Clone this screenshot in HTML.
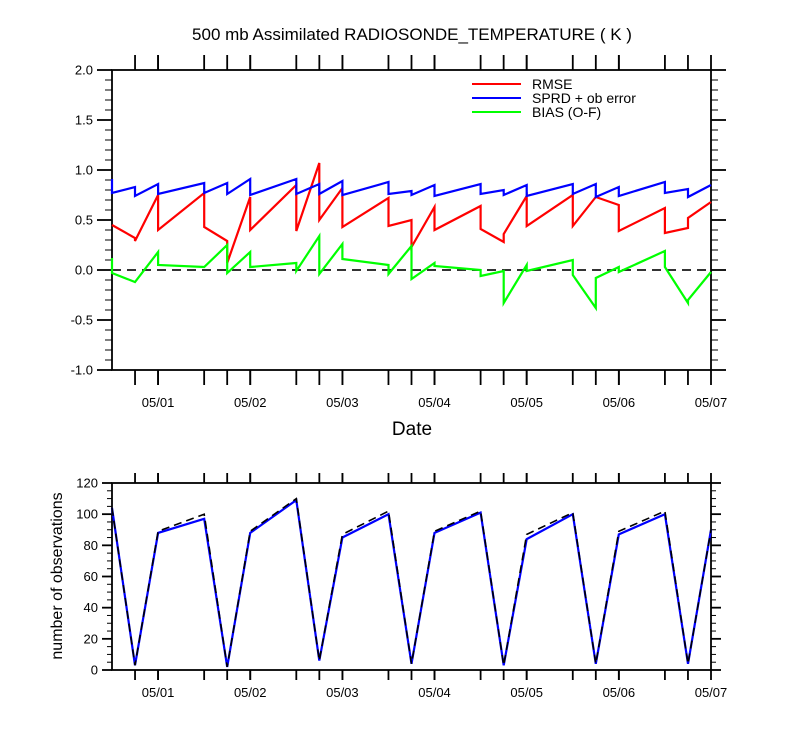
<!DOCTYPE html>
<html><head><meta charset="utf-8">
<style>
html,body{margin:0;padding:0;background:#fff;}
svg{display:block;font-family:"Liberation Sans",Arial,sans-serif;}
</style></head>
<body>
<svg id="chart" width="800" height="750" xmlns="http://www.w3.org/2000/svg">
<text x="412" y="40" font-size="17" text-anchor="middle">500 mb Assimilated RADIOSONDE_TEMPERATURE ( K )</text>
<text x="412" y="435" font-size="19" text-anchor="middle">Date</text>
<text transform="translate(62,576) rotate(-90)" font-size="16" text-anchor="middle">number of observations</text>
<g>
<line x1="472" y1="84" x2="521" y2="84" stroke="#ff0000" stroke-width="2"/>
<text x="532" y="89" font-size="14">RMSE</text>
<line x1="472" y1="98" x2="521" y2="98" stroke="#0000ff" stroke-width="2"/>
<text x="532" y="103" font-size="14">SPRD + ob error</text>
<line x1="472" y1="112" x2="521" y2="112" stroke="#00ff00" stroke-width="2"/>
<text x="532" y="117" font-size="14">BIAS (O-F)</text>
</g>
</svg>
<script>
// hours relative to 05/01 00Z; duplicated times produce vertical jumps
const rmseT = [-12,-6,-6,0,0,12,12,18,18,24,24,36,36,42,42,48,48,60,60,66,66,72,72,84,84,90,90,96,96,108,108,114,114,120,120,132,132,138,138,144];
const rmseV = [0.45,0.32,0.29,0.75,0.40,0.77,0.43,0.29,0.07,0.73,0.40,0.85,0.39,1.07,0.50,0.82,0.43,0.72,0.44,0.50,0.23,0.63,0.40,0.64,0.41,0.28,0.36,0.74,0.44,0.75,0.44,0.73,0.73,0.65,0.39,0.62,0.37,0.42,0.52,0.68];
const sprdT = [-12,-12,-6,-6,0,0,12,12,18,18,24,24,36,36,42,42,48,48,60,60,66,66,72,72,84,84,90,90,96,96,108,108,114,114,120,120,132,132,138,138,144];
const sprdV = [0.91,0.77,0.83,0.74,0.86,0.76,0.87,0.77,0.87,0.76,0.91,0.75,0.91,0.76,0.86,0.76,0.89,0.75,0.88,0.76,0.79,0.75,0.85,0.74,0.86,0.76,0.80,0.75,0.85,0.74,0.86,0.76,0.86,0.73,0.83,0.74,0.88,0.77,0.81,0.73,0.85];
const biasT = [-12,-12,-6,0,0,12,18,18,24,24,36,36,42,42,48,48,60,60,66,66,72,72,84,84,90,90,96,96,108,108,114,114,120,120,132,132,138,138,144];
const biasV = [0.12,-0.03,-0.12,0.18,0.05,0.03,0.25,-0.03,0.18,0.03,0.07,-0.01,0.34,-0.04,0.26,0.11,0.05,-0.04,0.24,-0.09,0.07,0.04,0.00,-0.06,-0.01,-0.33,0.05,-0.01,0.10,-0.05,-0.38,-0.08,0.03,-0.02,0.19,0.03,-0.33,-0.30,-0.02];
const obsT = [-12,-6,0,12,18,24,36,42,48,60,66,72,84,90,96,108,114,120,132,138,144];
const obsUsed = [104,3,88,97,2,88,109,6,85,100,4,88,101,3,84,100,4,87,100,4,90];
const obsTotal = [104,3,89,100,2,89,110,6,87,102,4,89,102,3,87,101,4,89,102,4,90];
const dayLabels = ["05/01","05/02","05/03","05/04","05/05","05/06","05/07"];
const dayHours = [0,24,48,72,96,120,144];
const tickHours = [-6,0,12,18,24,36,42,48,60,66,72,84,90,96,108,114,120,132,138];
const topTicks = [-1.0,-0.5,0.0,0.5,1.0,1.5,2.0];
const botTicks = [0,20,40,60,80,100,120];

const NS="http://www.w3.org/2000/svg";
const svg=document.getElementById('chart');
const X0=112,X1=711,H0=-12,H1=144;
function xs(h){return X0+(h-H0)*(X1-X0)/(H1-H0);}
const T={top:70,bot:370,min:-1,max:2};
const B={top:483,bot:670,min:0,max:120};
function ys(p,v){return p.bot-(v-p.min)*(p.bot-p.top)/(p.max-p.min);}
function mk(tag,attrs){const e=document.createElementNS(NS,tag);for(const k in attrs)e.setAttribute(k,attrs[k]);svg.appendChild(e);return e;}
function ln(x1,y1,x2,y2,w){return mk('line',{x1,y1,x2,y2,stroke:'#000','stroke-width':w||1.5});}

function frame(p,name,ticks,fmt,minorStep,majorLen,minorLen,labOff){
  const r=mk('rect',{x:X0,y:p.top,width:X1-X0,height:p.bot-p.top,fill:'none',stroke:'#000','stroke-width':1.8});
  
  
  tickHours.concat(dayHours).forEach(h=>{const x=xs(h);ln(x,p.top,x,p.top-majorLen,1.8);ln(x,p.bot,x,p.bot+majorLen,1.8);});
  dayHours.forEach((h,i)=>{const t=mk('text',{x:xs(h),y:p.bot+labOff,'font-size':13,'text-anchor':'middle'});t.textContent=dayLabels[i];
    
    });
  for(let v=p.min;v<=p.max+1e-9;v+=minorStep){const y=ys(p,v);ln(X0,y,X0-minorLen,y,1);ln(X1,y,X1+minorLen,y,1);}
  ticks.forEach(v=>{const y=ys(p,v);ln(X0,y,X0-majorLen,y,1.8);ln(X1,y,X1+majorLen,y,1.8);
    const t=mk('text',{x:X0-majorLen-4,y:y+4.5,'font-size':13,'text-anchor':'end'});t.textContent=fmt(v);
    
    });
}
frame(T,'top-plot',topTicks,v=>v.toFixed(1),0.1,15,7,37);
frame(B,'bottom-plot',botTicks,v=>String(v),5,10,5,27);
const z=mk('line',{x1:X0,y1:ys(T,0),x2:X1,y2:ys(T,0),stroke:'#333','stroke-width':2,'stroke-dasharray':'9,6'});



function series(p,ts,vs,color,name,dash,w){
  const pts=ts.map((h,i)=>xs(h).toFixed(1)+','+ys(p,vs[i]).toFixed(1)).join(' ');
  const pl=mk('polyline',{points:pts,fill:'none',stroke:color,'stroke-width':w||2.2,'stroke-linejoin':'miter'});
  if(dash)pl.setAttribute('stroke-dasharray',dash);
  
  
}
series(T,rmseT,rmseV,'#ff0000','rmse-line');
series(T,sprdT,sprdV,'#0000ff','sprd-line');
series(T,biasT,biasV,'#00ff00','bias-line');
series(B,obsT,obsUsed,'#0000ff','obs-used-line',null,2.2);
series(B,obsT,obsTotal,'#000','obs-total-line','8,5',1.6);
</script>
</body></html>
